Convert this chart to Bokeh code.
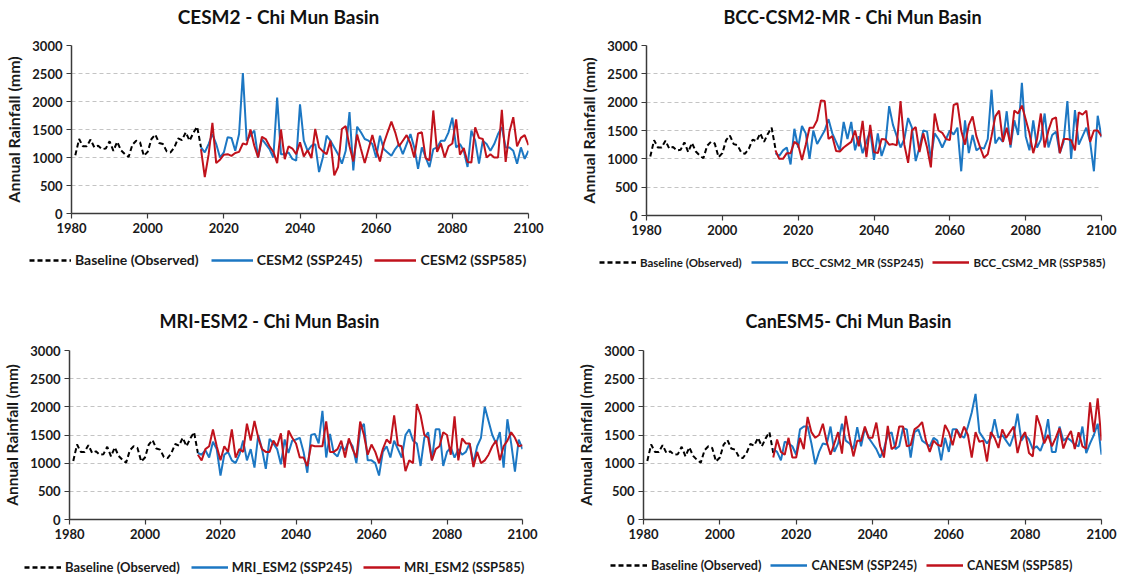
from bokeh.plotting import figure
from bokeh.layouts import column, row
from bokeh.models import Legend, LegendItem, Label, Range1d, FixedTicker
from bokeh.embed import file_html
from bokeh.resources import INLINE

# ---------------- data ----------------
baseline_years = list(range(1981, 2015))
baseline = [1040, 1330, 1200, 1200, 1320, 1180, 1210, 1150, 1160, 1290,
            1120, 1280, 1130, 1060, 1010, 1230, 1300, 1270, 1030, 1100,
            1330, 1410, 1260, 1240, 1110, 1090, 1180, 1340, 1310, 1450,
            1300, 1440, 1550, 1180]

future_years = list(range(2014, 2101))

cesm2_ssp245 = [1180, 1090, 1240, 1420, 1240, 1000, 1090, 1360, 1350, 1120,
                1420, 2510, 1300, 1400, 1480, 1000, 1330, 1240, 1150, 1000,
                2070, 1060, 1060, 1090, 975, 945, 1950, 1300, 1120, 1210,
                1240, 740, 1000, 1390, 1300, 1180, 1060, 890, 1120, 1810,
                770, 1550, 1450, 1330, 1300, 1240, 1000, 1390, 1150, 1090,
                1030, 1150, 1240, 1060, 1240, 1420, 1180, 800, 1180, 1000,
                830, 1150, 1180, 1300, 1300, 1450, 1710, 1180, 1240, 1120,
                830, 1480, 1300, 890, 1300, 1240, 1120, 1240, 1420, 1540,
                1180, 1180, 1120, 890, 1180, 975, 1120]
cesm2_ssp585 = [1150, 650, 1050, 1620, 900, 960, 1050, 1060, 1030, 1080,
                1100, 1250, 1230, 1500, 1210, 1000, 1370, 1330, 1200, 1100,
                900, 1500, 970, 1200, 1160, 1060, 1270, 1020, 1130, 990,
                1510, 1180, 1110, 1060, 1300, 680, 830, 1510, 1560, 1200,
                930, 1410, 1150, 900, 1150, 1400, 1140, 930, 1250, 1450,
                1640, 1450, 1200, 1300, 1400, 1250, 1000, 1430, 1450, 990,
                950, 1840, 1100, 1250, 1000, 1200, 1250, 1680, 1050, 1170,
                920, 910, 1540, 1350, 1330, 1000, 1060, 1000, 1000, 1850,
                920, 1460, 1720, 1200, 1350, 1400, 1220]

bcc_ssp245 = [1100, 1050, 1150, 1200, 900, 1530, 1200, 1580, 1450, 1000,
              1500, 1260, 1380, 1500, 1700, 1450, 1300, 1150, 1650, 1350,
              1650, 1150, 1400, 1100, 1300, 1500, 980, 1450, 1050, 1250,
              1930, 1600, 1400, 1200, 1350, 1720, 1550, 960, 1200, 1500,
              1480, 1000, 1450, 1350, 1200, 1350, 1500, 1430, 1550, 780,
              1680, 1100, 1420, 1150, 1200, 1180, 1350, 2220, 1270, 1380,
              1300, 1840, 1200, 1680, 1420, 2340, 1400, 1150, 1680, 1200,
              1340, 1800, 1200, 1420, 1480, 1100, 1300, 2020, 1000, 1860,
              1250, 1400, 1550, 1300, 780, 1760, 1380]
bcc_ssp585 = [1150, 1000, 1000, 1100, 1100, 1300, 1250, 980, 1250, 1550,
              1550, 1680, 2030, 2020, 1350, 1400, 1140, 1130, 1200, 1250,
              1300, 1500, 1220, 1670, 1030, 1600, 1120, 1100, 1350, 1340,
              1250, 1260, 1240, 2020, 1250, 930, 1500, 1560, 1120, 1450,
              1200, 850, 1800, 1500, 1460, 1350, 1330, 1950, 1980, 1500,
              1250, 1600, 1750, 1400, 1200, 1020, 1080, 1400, 1750, 1850,
              1300, 1550, 1250, 1850, 1800, 1940, 1700, 1450, 1100, 1350,
              1800, 1200, 1500, 1700, 1730, 1100, 1350, 1350, 1330, 1150,
              1820, 1780, 1850, 1300, 1500, 1500, 1400]

mri_ssp245 = [1180, 1150, 1230, 1100, 1380, 1250, 780, 1150, 1200, 1050,
              1000, 1150, 1400, 1050, 1250, 920, 1500, 1250, 900, 1430,
              1350, 1250, 980, 1420, 1180, 1400, 1420, 1450, 1200, 830,
              1500, 1520, 1350, 1930, 1100, 1520, 1180, 1120, 1300, 1230,
              1400, 1300, 1000, 1600, 1700, 1050, 1050, 1000, 780, 1200,
              1300, 1100, 1400, 1250, 1100, 1500, 1600, 1400, 1350, 950,
              1450, 1550, 1050, 1600, 1600, 950, 1200, 1280, 1100, 1250,
              1150, 1200, 1350, 1000, 1300, 1450, 2000, 1750, 1500, 1350,
              1550, 920, 1780, 1350, 850, 1420, 1250]
mri_ssp585 = [1150, 1050, 1250, 1300, 1600, 1300, 1050, 1300, 1200, 1600,
              1100, 1250, 1200, 1700, 1400, 1750, 1450, 1250, 1200, 1200,
              1400, 1300, 1530, 920, 1580, 1450, 1350, 1100, 1100, 950,
              1320, 1300, 1300, 1300, 1740, 1200, 1200, 1250, 1400, 1100,
              1440, 1250, 1100, 1740, 1500, 1150, 1330, 1200, 1000, 1250,
              1420, 1350, 1850, 1320, 1300, 860, 1050, 1000, 2050, 1850,
              1500, 1450, 1050, 1250, 1300, 1550, 1500, 1150, 1830, 1050,
              1440, 1350, 1350, 930, 1200, 1000, 1050, 1150, 1300, 1400,
              1050, 1300, 1400, 1550, 1450, 1300, 1320]

canesm_ssp245 = [1250, 1200, 1050, 1380, 1350, 1300, 1150, 1600, 1650, 1650,
                 1350, 980, 1200, 1350, 1330, 1650, 1200, 1350, 1700, 1400,
                 1350, 1250, 1640, 1300, 1620, 1450, 1350, 1250, 1100, 1250,
                 1500, 1550, 1250, 1300, 1620, 1600, 1100, 1550, 1600, 1400,
                 1350, 1300, 1450, 1400, 1050, 1450, 1200, 1600, 1600, 1500,
                 1450, 1650, 1900, 2230, 1550, 1450, 1350, 1450, 1780, 1450,
                 1500, 1400, 1300, 1500, 1880, 1400, 1500, 1420, 1250, 1300,
                 1220, 1400, 1780, 1200, 1200, 1650, 1400, 1450, 1400, 1330,
                 1300, 1650, 1180, 1350, 1500, 1700, 1150]
canesm_ssp585 = [1100, 1420, 1200, 1150, 1450, 1100, 1100, 1450, 1250, 1820,
                 1550, 1450, 1500, 1700, 1380, 1150, 1350, 1550, 1170, 1840,
                 1450, 1120, 1400, 1400, 1650, 1450, 1450, 1720, 1300, 1100,
                 1660, 1250, 1300, 1650, 1650, 1300, 1320, 1600, 1650, 1730,
                 1400, 1200, 1400, 1330, 1300, 1680, 1550, 1320, 1600, 1450,
                 1650, 1500, 1100, 1550, 1380, 1400, 1030, 1550, 1450, 1270,
                 1600, 1450, 1550, 1650, 1180, 1450, 1550, 1180, 1120, 1850,
                 1650, 1350, 1500, 1300, 1450, 1620, 1260, 1450, 1570, 1250,
                 1550, 1300, 1260, 2080, 1550, 2150, 1400]

titles = ["CESM2 - Chi Mun Basin", "BCC-CSM2-MR - Chi Mun Basin",
          "MRI-ESM2 - Chi Mun Basin", "CanESM5- Chi Mun Basin"]
baseline_label = "Baseline (Observed)"
ssp245_labels = ["CESM2 (SSP245)", "BCC_CSM2_MR (SSP245)",
                 "MRI_ESM2 (SSP245)", "CANESM (SSP245)"]
ssp585_labels = ["CESM2 (SSP585)", "BCC_CSM2_MR (SSP585)",
                 "MRI_ESM2 (SSP585)", "CANESM (SSP585)"]
ssp245_series = [cesm2_ssp245, bcc_ssp245, mri_ssp245, canesm_ssp245]
ssp585_series = [cesm2_ssp585, bcc_ssp585, mri_ssp585, canesm_ssp585]

x_ticks = [1980, 2000, 2020, 2040, 2060, 2080, 2100]
y_ticks = [0, 500, 1000, 1500, 2000, 2500, 3000]
y_title = "Annual Rainfall (mm)"

# ---------------- layout / style ----------------
FONT = "Lato"
BLUE = "#1c77c3"
RED = "#c0121c"
AXIS = "#3a3a3a"
TITLE_H = 30

cfg = [
    dict(W=566, CH=215, LH=60, L=71, FW=457, T=15, FH=168, tx=278, ty=16, tfs=19,
         lx=29, lyc=15, lfs=14, gw=42, sp=12, yfs=16),
    dict(W=567, CH=215, LH=60, L=80, FW=455, T=15, FH=170, tx=286, ty=16, tfs=18,
         lx=33, lyc=17, lfs=11.5, gw=37, sp=9, yfs=16),
    dict(W=566, CH=215, LH=27, L=64, FW=458, T=15, FH=169, tx=269, ty=15, tfs=18,
         lx=24, lyc=17, lfs=13, gw=37, sp=11, yfs=15.5),
    dict(W=567, CH=215, LH=27, L=77, FW=458, T=15, FH=169, tx=282, ty=15, tfs=18,
         lx=44, lyc=15, lfs=12.5, gw=37, sp=9, yfs=15.5),
]


def strip(W, H):
    s = figure(width=W, height=H, x_range=Range1d(0, 1), y_range=Range1d(0, 1),
               output_backend="svg", toolbar_location=None,
               x_axis_location=None, y_axis_location=None,
               min_border_left=0, min_border_right=0,
               min_border_top=0, min_border_bottom=0)
    s.frame_align = False
    s.outline_line_color = None
    s.xgrid.visible = False
    s.ygrid.visible = False
    s.background_fill_color = "white"
    s.border_fill_color = "white"
    return s


def make_panel(i):
    c = cfg[i]
    W, CH, L, FW, T, FH = c["W"], c["CH"], c["L"], c["FW"], c["T"], c["FH"]

    # title strip
    t = strip(W, TITLE_H)
    t.add_layout(Label(x=c["tx"], y=TITLE_H - c["ty"], x_units="screen",
                       y_units="screen", text=titles[i], text_font=FONT,
                       text_font_style="bold", text_font_size=f'{c["tfs"]}px',
                       text_color="#111111", text_align="center",
                       text_baseline="middle"))

    # chart
    p = figure(width=W, height=CH,
               x_range=Range1d(1980, 2100), y_range=Range1d(0, 3000),
               output_backend="svg", toolbar_location=None,
               min_border_left=L, min_border_right=W - L - FW,
               min_border_top=T, min_border_bottom=CH - T - FH)
    p.frame_align = False
    p.outline_line_color = None
    p.background_fill_color = "white"
    p.border_fill_color = "white"
    p.xgrid.visible = False
    p.ygrid.grid_line_color = "#c4c4c4"
    p.ygrid.grid_line_dash = "4 3"
    p.ygrid.grid_line_width = 1
    p.xaxis.ticker = FixedTicker(ticks=x_ticks)
    p.yaxis.ticker = FixedTicker(ticks=y_ticks)
    for ax in (p.xaxis[0], p.yaxis[0]):
        ax.axis_line_color = AXIS
        ax.axis_line_width = 1.5
        ax.major_tick_line_color = AXIS
        ax.major_tick_line_width = 1.2
        ax.major_tick_in = 0
        ax.major_tick_out = 5
        ax.minor_tick_line_color = None
        ax.major_label_text_font = FONT
        ax.major_label_text_font_style = "bold"
        ax.major_label_text_font_size = "13px"
        ax.major_label_text_color = "#1a1a1a"
        ax.major_label_standoff = 4
    p.yaxis.axis_label = y_title
    p.yaxis.axis_label_text_font = FONT
    p.yaxis.axis_label_text_font_style = "bold"
    p.yaxis.axis_label_text_font_size = f'{c["yfs"]}px'
    p.yaxis.axis_label_text_color = "#1a1a1a"
    p.yaxis.axis_label_standoff = 6

    p.line(baseline_years, baseline, line_color="black",
           line_width=2, line_dash="5 3")
    p.line(future_years, ssp245_series[i], line_color=BLUE, line_width=2)
    p.line(future_years, ssp585_series[i], line_color=RED, line_width=2)

    # legend strip: same series, outside the strip's range (only the key shows)
    LH = c["LH"]
    q = strip(W, LH)
    k0 = q.line(baseline_years, baseline, line_color="black",
                line_width=2.5, line_dash="5 3")
    k1 = q.line(future_years, ssp245_series[i], line_color=BLUE, line_width=2.5)
    k2 = q.line(future_years, ssp585_series[i], line_color=RED, line_width=2.5)
    lh = 16
    legend = Legend(items=[LegendItem(label=baseline_label, renderers=[k0]),
                           LegendItem(label=ssp245_labels[i], renderers=[k1]),
                           LegendItem(label=ssp585_labels[i], renderers=[k2])],
                    orientation="horizontal",
                    location=(c["lx"], LH - c["lyc"] - lh // 2),
                    padding=0, margin=0, spacing=c["sp"],
                    glyph_width=c["gw"], glyph_height=lh, label_height=lh,
                    label_standoff=4,
                    label_text_font=FONT, label_text_font_style="bold",
                    label_text_font_size=f'{c["lfs"]}px',
                    label_text_color="#1a1a1a",
                    background_fill_alpha=0, border_line_color=None)
    q.add_layout(legend, "center")
    return column(t, p, q, spacing=0)


panels = [make_panel(i) for i in range(4)]
layout = column(row(panels[0], panels[1], spacing=0),
                row(panels[2], panels[3], spacing=0), spacing=0)

open("out.html", "w").write(file_html(layout, INLINE))
